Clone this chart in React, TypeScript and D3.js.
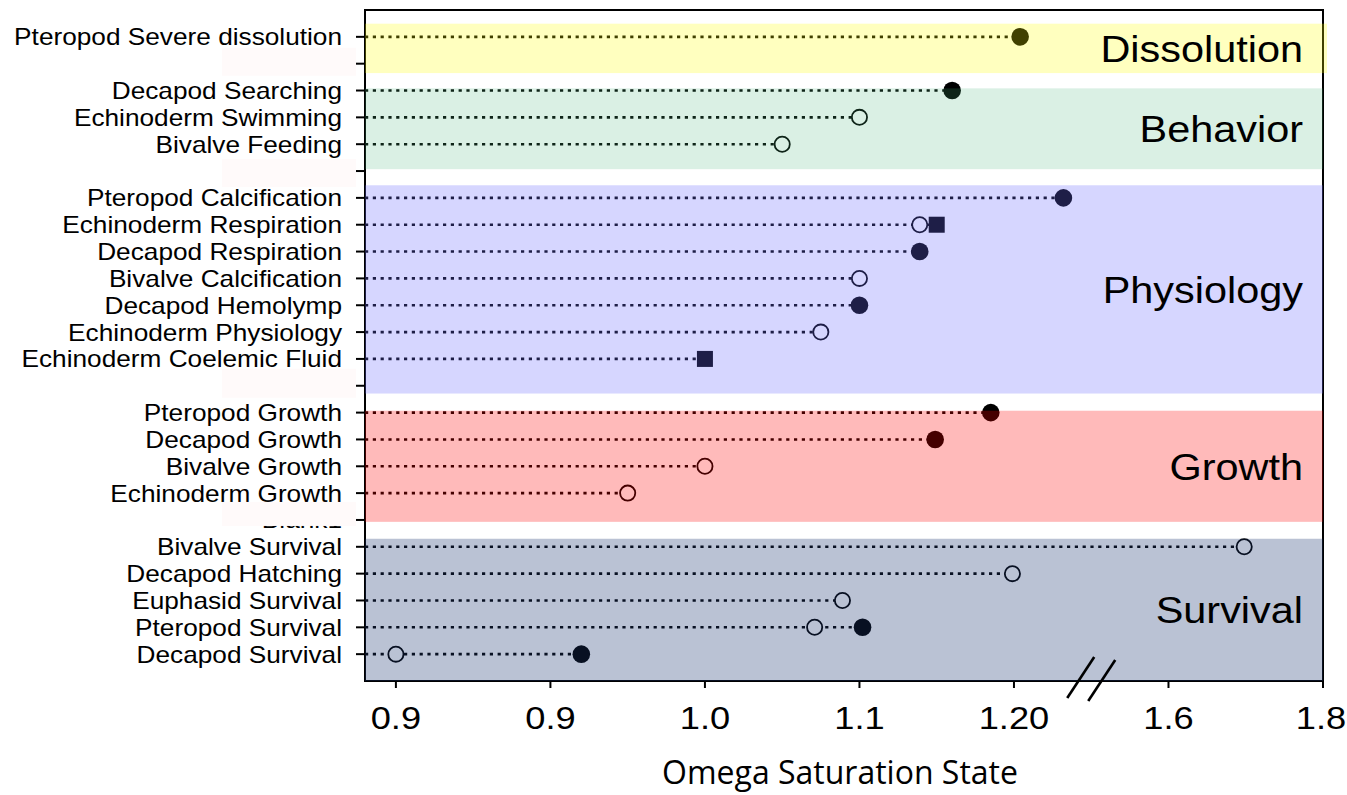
import React from "react";
import * as d3 from "d3";

const categories = [
  "Pteropod Severe dissolution", "Blank4",
  "Decapod Searching", "Echinoderm Swimming", "Bivalve Feeding", "Blank3",
  "Pteropod Calcification", "Echinoderm Respiration", "Decapod Respiration",
  "Bivalve Calcification", "Decapod Hemolymp", "Echinoderm Physiology",
  "Echinoderm Coelemic Fluid", "Blank2",
  "Pteropod Growth", "Decapod Growth", "Bivalve Growth", "Echinoderm Growth", "Blank1",
  "Bivalve Survival", "Decapod Hatching", "Euphasid Survival", "Pteropod Survival", "Decapod Survival",
];
const blankRows = [1, 5, 13, 18];

// values on the (broken) axis position scale
const hollowValues: (number | null)[] = [
  null, null,
  null, 1.1, 1.05, null,
  null, 1.139, null, 1.1, null, 1.075, null, null,
  null, null, 1.0, 0.95, null,
  1.349, 1.199, 1.089, 1.071, 0.8,
];
const filledValues: (number | null)[] = [
  1.204, null,
  1.16, null, null, null,
  1.232, null, 1.139, null, 1.1, null, null, null,
  1.185, 1.149, null, null, null,
  null, null, null, 1.102, 0.92,
];
const squareValues: (number | null)[] = [
  null, null,
  null, null, null, null,
  null, 1.15, null, null, null, null, 1.0, null,
  null, null, null, null, null,
  null, null, null, null, null,
];

const tickValues = [0.8, 0.9, 1.0, 1.1, 1.2, 1.3, 1.4];
const tickLabels = ["0.9", "0.9", "1.0", "1.1", "1.20", "1.6", "1.8"];

const bandNames = ["Dissolution", "Behavior", "Physiology", "Growth", "Survival"];
const bandStart = [-0.49, 1.92, 5.53, 13.93, 18.7];
const bandEnd = [1.35, 4.93, 13.29, 18.07, 24];
const bandColors = ["rgb(255,255,0)", "rgb(70,180,120)", "rgb(106,106,255)", "rgb(255,0,0)", "rgb(28,52,112)"];
const bandOpacity = [0.25, 0.2, 0.28, 0.27, 0.3];

const W = 1347, H = 795;
const left = 365, right = 1323, top = 10, bottom = 681;
const ARIAL = "Arial, 'Liberation Sans', sans-serif";
// cover rectangle offsets (top, bottom) relative to blank row centre
const coverTop = [-16, -12, -17, -18];
const coverBottom = [12, 16, 12, 6];

export default function App() {
  const x = d3.scaleLinear().domain([0.78, 1.4]).range([left, right]);
  const y = d3.scaleLinear().domain([-1, 24]).range([top, bottom]);

  const rows = categories.map((c, i) => {
    const vals = [hollowValues[i], filledValues[i], squareValues[i]].filter((v) => v != null) as number[];
    return { c, i, end: vals.length ? (d3.max(vals) as number) : null };
  });

  const breakX = x(1.25);

  return (
    <svg width={W} height={H} style={{ display: "block", position: "absolute", left: 0, top: 0 }}>
      <rect x={0} y={0} width={W} height={H} fill="white" />
      {/* dotted lines */}
      {rows.map((r) =>
        r.end != null ? (
          <line key={"l" + r.i} x1={left} x2={x(r.end)} y1={y(r.i)} y2={y(r.i)}
            stroke="black" strokeWidth={2.6} strokeDasharray="3.2 4.6" />
        ) : null
      )}
      {/* markers */}
      {squareValues.map((v, i) => v != null ? (
        <rect key={"s" + i} x={x(v) - 8} y={y(i) - 8} width={16} height={16} fill="black" />
      ) : null)}
      {hollowValues.map((v, i) => v != null ? (
        <circle key={"h" + i} cx={x(v)} cy={y(i)} r={7.6} fill="white" stroke="black" strokeWidth={1.8} />
      ) : null)}
      {filledValues.map((v, i) => v != null ? (
        <circle key={"f" + i} cx={x(v)} cy={y(i)} r={8.8} fill="black" />
      ) : null)}
      {/* spines */}
      <rect x={left} y={top} width={right - left} height={bottom - top} fill="none" stroke="black" strokeWidth={2} />
      {/* y ticks */}
      {categories.map((c, i) => (
        <line key={"yt" + i} x1={left - 9} x2={left} y1={y(i)} y2={y(i)} stroke="black" strokeWidth={2} />
      ))}
      {/* x ticks */}
      {tickValues.map((t, i) => (
        <g key={"xt" + i}>
          <line x1={x(t)} x2={x(t)} y1={bottom} y2={bottom + 7} stroke="black" strokeWidth={2} />
          <g transform={`translate(${x(t) - (i === tickValues.length - 1 ? 2 : 0)},${729}) scale(1.17,1)`}>
            <text textAnchor="middle" fontFamily={ARIAL} fontSize={31} fill="black">{tickLabels[i]}</text>
          </g>
        </g>
      ))}
      {/* bands overlay */}
      {bandNames.map((b, i) => (
        <rect key={"b" + i} x={left} y={y(bandStart[i])}
          width={(i === 0 ? right + 4 : right) - left}
          height={y(bandEnd[i]) - y(bandStart[i])}
          fill={bandColors[i]} fillOpacity={bandOpacity[i]} />
      ))}
      {/* band labels */}
      {bandNames.map((b, i) => (
        <g key={"bl" + i} transform={`translate(${1303},${(y(bandStart[i]) + y(bandEnd[i])) / 2 + 13.5}) scale(1.12,1)`}>
          <text textAnchor="end" fontFamily={ARIAL} fontSize={37} fill="black">{b}</text>
        </g>
      ))}
      {/* category labels */}
      {categories.map((c, i) => (
        <g key={"cl" + i} transform={`translate(${342},${y(i) + 8.5}) scale(1.14,1)`}>
          <text textAnchor="end" fontFamily={ARIAL} fontSize={23} fill="black">{c}</text>
        </g>
      ))}
      {/* covers for blank labels */}
      {blankRows.map((i, k) => (
        <rect key={"cv" + i} x={222} y={y(i) + coverTop[k]} width={134}
          height={coverBottom[k] - coverTop[k]} fill="#fffafa" />
      ))}
      {/* axis break marks */}
      <line x1={breakX - 24} y1={698} x2={breakX + 3} y2={657} stroke="black" strokeWidth={2.6} />
      <line x1={breakX - 3} y1={701} x2={breakX + 24} y2={660} stroke="black" strokeWidth={2.6} />
      {/* axis title */}
      <text x={840} y={784} textAnchor="middle" fontFamily="'Open Sans', sans-serif" fontSize={32} fill="black">
        Omega Saturation State
      </text>
    </svg>
  );
}
